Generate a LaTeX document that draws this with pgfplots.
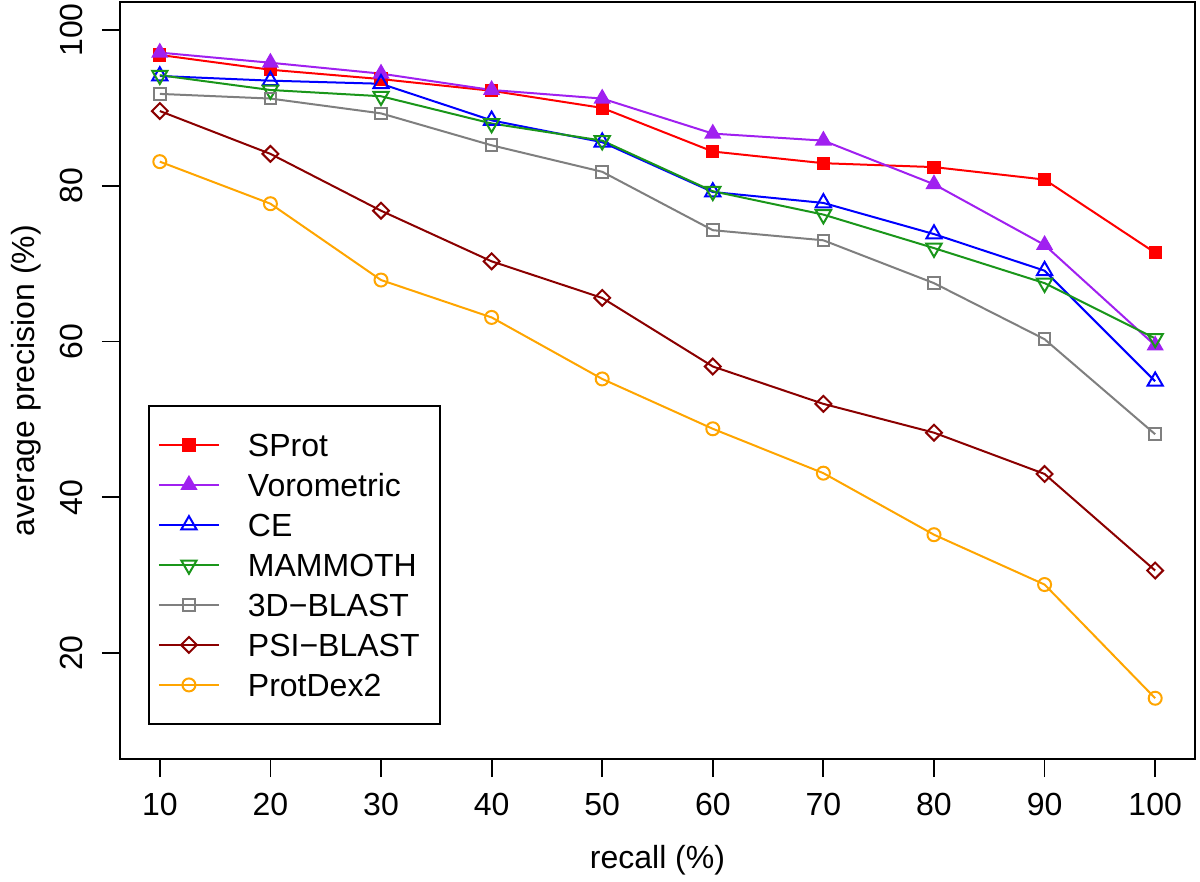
\documentclass[border=0pt]{standalone}
\usepackage{fontspec}
\setmainfont{Liberation Sans}
\usepackage{pgfplots}
\pgfplotsset{compat=1.18}
\definecolor{rred}{HTML}{FF0000}
\definecolor{rpurple}{HTML}{A020F0}
\definecolor{rblue}{HTML}{0000FF}
\definecolor{rgreen}{HTML}{1A961A}
\definecolor{rgray}{HTML}{7F7F7F}
\definecolor{rdarkred}{HTML}{8B0000}
\definecolor{rorange}{HTML}{FFA500}
\pgfplotstableread{
x SProt Voro CE MAMMOTH BLAST3D PSI ProtDex
10 96.8 97.1 94.1 94.2 91.8 89.6 83.1
20 94.9 95.8 93.5 92.3 91.2 84.1 77.7
30 93.7 94.4 93.1 91.5 89.3 76.8 67.9
40 92.2 92.3 88.4 88.0 85.2 70.3 63.1
50 90.0 91.2 85.6 85.8 81.8 65.6 55.2
60 84.4 86.7 79.2 79.3 74.3 56.8 48.8
70 82.9 85.8 77.8 76.3 73.0 52.0 43.1
80 82.4 80.2 73.8 72.0 67.5 48.3 35.2
90 80.8 72.4 69.1 67.5 60.3 43.0 28.8
100 71.4 59.5 54.9 60.4 48.1 30.6 14.2
}\datatable
\newcommand{\chartfont}{\fontsize{16pt}{19pt}\selectfont}
\begin{document}
\begin{tikzpicture}
\begin{axis}[
  scale only axis, width=537.5pt, height=378.5pt,
  xmin=6.4, xmax=103.6, ymin=6.4, ymax=103.6,
  xtick={10,20,30,40,50,60,70,80,90,100},
  ytick={20,40,60,80,100},
  tick align=outside, major tick length=9pt,
  xtick pos=bottom, ytick pos=left,
  axis line style={line width=1.1pt},
  tick style={line width=0.9pt, black},
  font=\chartfont,
  ticklabel style={font=\chartfont},
  /pgf/number format/assume math mode=true,
  yticklabel style={rotate=90, anchor=south, inner sep=0pt, yshift=9.5pt},
  xticklabel style={anchor=north, inner sep=0pt, yshift=-8pt},
  xlabel={recall (\%)}, ylabel={average precision (\%)},
  xlabel style={at={(axis description cs:0.5,0)}, anchor=center, yshift=-50.5pt},
  ylabel style={at={(axis description cs:0,0.5)}, anchor=center, yshift=47pt},
  legend cell align=left,
  legend image code/.code={\draw[mark repeat=2,mark phase=2,#1] plot coordinates {(0pt,0pt) (15pt,0pt) (30pt,0pt)};},
  legend style={at={(0.026,0.045)}, anchor=south west, draw=black, line width=1pt,
    font=\chartfont, inner xsep=4.5pt, inner ysep=12pt,
    row sep=5pt,
    nodes={font=\chartfont, inner sep=0pt, text height=13.5pt, text depth=1.5pt},
    /tikz/every odd column/.append style={column sep=14pt}},
  every axis plot/.append style={line width=1pt},
]
\addplot[rred, mark=square*, mark size=2.8pt] table[x=x,y=SProt]{\datatable};
\addlegendentry{SProt}
\addplot[rpurple, mark=triangle*, mark size=4pt] table[x=x,y=Voro]{\datatable};
\addlegendentry{Vorometric}
\addplot[rblue, mark=triangle, mark size=4.4pt] table[x=x,y=CE]{\datatable};
\addlegendentry{CE}
\addplot[rgreen, mark=triangle, mark size=4.4pt, mark options={rotate=180}] table[x=x,y=MAMMOTH]{\datatable};
\addlegendentry{MAMMOTH}
\addplot[rgray, mark=square, mark size=2.9pt] table[x=x,y=BLAST3D]{\datatable};
\addlegendentry{3D−BLAST}
\addplot[rdarkred, mark=square, mark size=2.8pt, mark options={rotate=45}] table[x=x,y=PSI]{\datatable};
\addlegendentry{\mbox{PSI−BLAST\kern5.5pt}}
\addplot[rorange, mark=o, mark size=3.25pt] table[x=x,y=ProtDex]{\datatable};
\addlegendentry{ProtDex2}
\end{axis}
\path (current axis.south west) ++(-60pt,-59pt) rectangle ++(600pt,438.5pt);
\end{tikzpicture}
\end{document}
